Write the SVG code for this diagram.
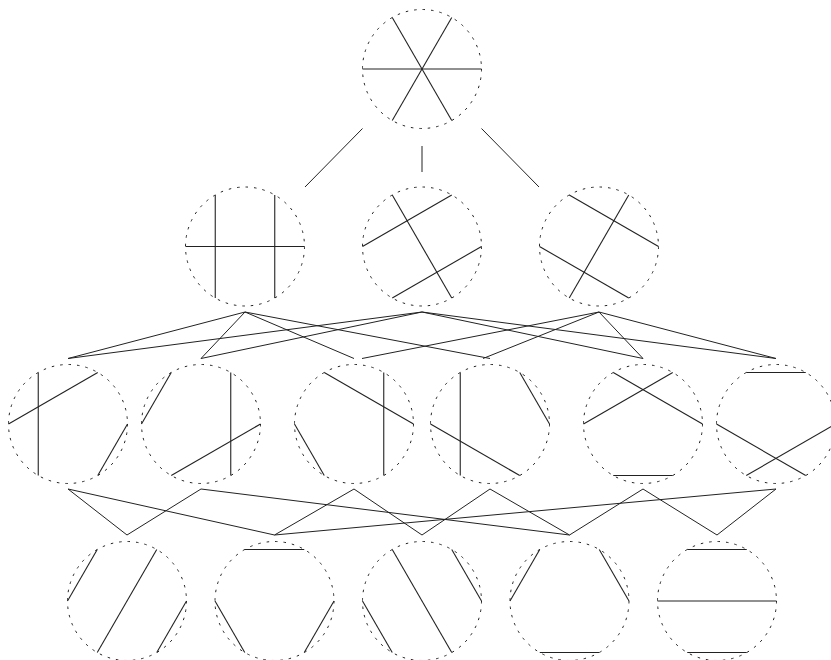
<svg xmlns="http://www.w3.org/2000/svg" width="831" height="660" viewBox="0 0 831 660">
<style>
.bg{fill:#ffffff}
.ring{fill:none;stroke:#222;stroke-width:1;stroke-dasharray:2.5 6}
.chord{fill:none;stroke:#222;stroke-width:1.1}
.edge{fill:none;stroke:#222;stroke-width:1}
</style>
<defs>
<circle id="ring" r="59.5" class="ring"/>
</defs>
<rect class="bg" x="0" y="0" width="831" height="660"/>
<g id="connectors">
<line class="edge" x1="362.5" y1="128.5" x2="305" y2="187"/>
<line class="edge" x1="422" y1="146" x2="422" y2="172"/>
<line class="edge" x1="481.5" y1="128.5" x2="539" y2="187"/>
<polyline class="edge" points="68,358.5 245,312 201,358.5"/>
<line class="edge" x1="245" y1="312" x2="354" y2="358.5"/>
<line class="edge" x1="245" y1="312" x2="490" y2="358.5"/>
<line class="edge" x1="422" y1="312" x2="68" y2="358.5"/>
<line class="edge" x1="422" y1="312" x2="201" y2="358.5"/>
<line class="edge" x1="422" y1="312" x2="643" y2="358.5"/>
<line class="edge" x1="422" y1="312" x2="776" y2="358.5"/>
<line class="edge" x1="599" y1="312" x2="362" y2="358.5"/>
<line class="edge" x1="599" y1="312" x2="483" y2="358.5"/>
<line class="edge" x1="599" y1="312" x2="643" y2="358.5"/>
<line class="edge" x1="599" y1="312" x2="776" y2="358.5"/>
<line class="edge" x1="68" y1="489" x2="127" y2="535"/>
<line class="edge" x1="68" y1="489" x2="274.5" y2="535"/>
<line class="edge" x1="201" y1="489" x2="127" y2="535"/>
<line class="edge" x1="201" y1="489" x2="569.5" y2="535"/>
<line class="edge" x1="354" y1="489" x2="274.5" y2="535"/>
<line class="edge" x1="354" y1="489" x2="422" y2="535"/>
<line class="edge" x1="490" y1="489" x2="422" y2="535"/>
<line class="edge" x1="490" y1="489" x2="569.5" y2="535"/>
<line class="edge" x1="643" y1="489" x2="569.5" y2="535"/>
<line class="edge" x1="643" y1="489" x2="717" y2="535"/>
<line class="edge" x1="776" y1="489" x2="274.5" y2="535"/>
<line class="edge" x1="776" y1="489" x2="717" y2="535"/>
</g>
<g id="n0" transform="translate(422,69)">
<use href="#ring"/>
<line class="chord" x1="59.5" y1="0" x2="-59.5" y2="0"/>
<line class="chord" x1="29.75" y1="-51.53" x2="-29.75" y2="51.53"/>
<line class="chord" x1="-29.75" y1="-51.53" x2="29.75" y2="51.53"/>
</g>
<g id="n1a" transform="translate(245,246.5)">
<use href="#ring"/>
<line class="chord" x1="59.5" y1="0" x2="-59.5" y2="0"/>
<line class="chord" x1="29.75" y1="-51.53" x2="29.75" y2="51.53"/>
<line class="chord" x1="-29.75" y1="-51.53" x2="-29.75" y2="51.53"/>
</g>
<g id="n1b" transform="translate(422,246.5)">
<use href="#ring"/>
<line class="chord" x1="-29.75" y1="-51.53" x2="29.75" y2="51.53"/>
<line class="chord" x1="-59.5" y1="0" x2="29.75" y2="-51.53"/>
<line class="chord" x1="-29.75" y1="51.53" x2="59.5" y2="0"/>
</g>
<g id="n1c" transform="translate(599,246.5)">
<use href="#ring"/>
<line class="chord" x1="-29.75" y1="-51.53" x2="59.5" y2="0"/>
<line class="chord" x1="-59.5" y1="0" x2="29.75" y2="51.53"/>
<line class="chord" x1="29.75" y1="-51.53" x2="-29.75" y2="51.53"/>
</g>
<g id="n2a" transform="translate(68,424)">
<use href="#ring"/>
<line class="chord" x1="-29.75" y1="-51.53" x2="-29.75" y2="51.53"/>
<line class="chord" x1="-59.5" y1="0" x2="29.75" y2="-51.53"/>
<line class="chord" x1="59.5" y1="0" x2="29.75" y2="51.53"/>
</g>
<g id="n2b" transform="translate(201,424)">
<use href="#ring"/>
<line class="chord" x1="-59.5" y1="0" x2="-29.75" y2="-51.53"/>
<line class="chord" x1="29.75" y1="-51.53" x2="29.75" y2="51.53"/>
<line class="chord" x1="59.5" y1="0" x2="-29.75" y2="51.53"/>
</g>
<g id="n2c" transform="translate(354,424)">
<use href="#ring"/>
<line class="chord" x1="-29.75" y1="-51.53" x2="59.5" y2="0"/>
<line class="chord" x1="29.75" y1="-51.53" x2="29.75" y2="51.53"/>
<line class="chord" x1="-59.5" y1="0" x2="-29.75" y2="51.53"/>
</g>
<g id="n2d" transform="translate(490,424)">
<use href="#ring"/>
<line class="chord" x1="-29.75" y1="-51.53" x2="-29.75" y2="51.53"/>
<line class="chord" x1="-59.5" y1="0" x2="29.75" y2="51.53"/>
<line class="chord" x1="29.75" y1="-51.53" x2="59.5" y2="0"/>
</g>
<g id="n2e" transform="translate(643,424)">
<use href="#ring"/>
<line class="chord" x1="-29.75" y1="-51.53" x2="59.5" y2="0"/>
<line class="chord" x1="-59.5" y1="0" x2="29.75" y2="-51.53"/>
<line class="chord" x1="-29.75" y1="51.53" x2="29.75" y2="51.53"/>
</g>
<g id="n2f" transform="translate(776,424)">
<use href="#ring"/>
<line class="chord" x1="-29.75" y1="-51.53" x2="29.75" y2="-51.53"/>
<line class="chord" x1="-59.5" y1="0" x2="29.75" y2="51.53"/>
<line class="chord" x1="59.5" y1="0" x2="-29.75" y2="51.53"/>
</g>
<g id="n3a" transform="translate(127,601)">
<use href="#ring"/>
<line class="chord" x1="-29.75" y1="-51.53" x2="-59.5" y2="0"/>
<line class="chord" x1="29.75" y1="-51.53" x2="-29.75" y2="51.53"/>
<line class="chord" x1="59.5" y1="0" x2="29.75" y2="51.53"/>
</g>
<g id="n3b" transform="translate(274.5,601)">
<use href="#ring"/>
<line class="chord" x1="-29.75" y1="-51.53" x2="29.75" y2="-51.53"/>
<line class="chord" x1="-59.5" y1="0" x2="-29.75" y2="51.53"/>
<line class="chord" x1="59.5" y1="0" x2="29.75" y2="51.53"/>
</g>
<g id="n3c" transform="translate(422,601)">
<use href="#ring"/>
<line class="chord" x1="-29.75" y1="-51.53" x2="29.75" y2="51.53"/>
<line class="chord" x1="29.75" y1="-51.53" x2="59.5" y2="0"/>
<line class="chord" x1="-59.5" y1="0" x2="-29.75" y2="51.53"/>
</g>
<g id="n3d" transform="translate(569.5,601)">
<use href="#ring"/>
<line class="chord" x1="-59.5" y1="0" x2="-29.75" y2="-51.53"/>
<line class="chord" x1="29.75" y1="-51.53" x2="59.5" y2="0"/>
<line class="chord" x1="-29.75" y1="51.53" x2="29.75" y2="51.53"/>
</g>
<g id="n3e" transform="translate(717,601)">
<use href="#ring"/>
<line class="chord" x1="-29.75" y1="-51.53" x2="29.75" y2="-51.53"/>
<line class="chord" x1="-59.5" y1="0" x2="59.5" y2="0"/>
<line class="chord" x1="-29.75" y1="51.53" x2="29.75" y2="51.53"/>
</g>
</svg>
